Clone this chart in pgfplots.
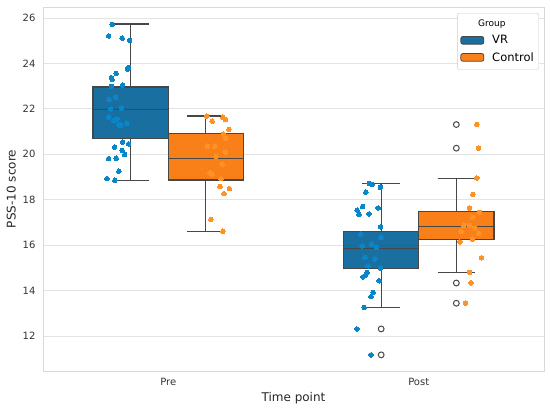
\documentclass[border=0pt]{standalone}
\usepackage{fontspec}
\setmainfont{DejaVu Sans}
\usepackage{pgfplots}
\pgfplotsset{compat=1.18}
\definecolor{vrbox}{HTML}{005F95}
\definecolor{ctbox}{HTML}{F87200}
\definecolor{vrleg}{HTML}{1A6FA0}
\definecolor{ctleg}{HTML}{F9801A}
\definecolor{vrpt}{HTML}{0A86C8}
\definecolor{ctpt}{HTML}{FF9224}
\definecolor{boxedge}{HTML}{474747}
\definecolor{gridc}{HTML}{E3E3E3}
\definecolor{framec}{HTML}{D9D9D9}
\begin{document}
\begin{tikzpicture}
\path[use as bounding box] (-43pt,-37pt) rectangle (507pt,371pt);
\begin{axis}[
  at={(0pt,0pt)}, anchor=south west,
  scale only axis, width=501pt, height=364pt,
  xmin=-0.5, xmax=1.5, ymin=10.47, ymax=26.48,
  xtick={0,1}, xticklabels={Pre,Post},
  ytick={12,14,...,26},
  ymajorgrids, grid style={gridc, line width=0.8pt},
  axis line style={framec, line width=0.8pt},
  major tick length=0pt,
  tick label style={font=\fontsize{10}{11}\selectfont, text=black!80},
  yticklabel style={xshift=-4pt},
  xticklabel style={yshift=-4pt},
  /pgf/number format/assume math mode=true,
  xlabel={Time point}, ylabel={PSS-10 score},
  label style={font=\fontsize{12}{14}\selectfont, text=black!85},
  legend style={at={(1,1)}, anchor=north east, xshift=-5pt, yshift=-6pt,
    draw=black!20, rounded corners=2pt, fill=white, inner ysep=5pt,
    font=\fontsize{11.5}{13}\selectfont, row sep=3pt, column sep=6pt},
  legend cell align=left,
  unbounded coords=jump,
  every axis plot/.append style={line join=miter},
]
\addlegendimage{empty legend}
\addlegendentry{\hspace*{-14pt}\fontsize{9}{10}\selectfont Group}
\addlegendimage{legend image code/.code={\draw[fill=vrleg, draw=boxedge, line width=0.8pt] (0pt,-3.8pt) rectangle (23pt,3.8pt);}}
\addlegendentry{VR}
\addlegendimage{legend image code/.code={\draw[fill=ctleg, draw=boxedge, line width=0.8pt] (0pt,-3.8pt) rectangle (23pt,3.8pt);}}
\addlegendentry{Control}

% whiskers and caps
\addplot[forget plot, boxedge, line width=1.3pt] coordinates {
(-0.15,22.96) (-0.15,25.73) (nan,nan) (-0.225,25.73) (-0.075,25.73) (nan,nan)
(-0.15,20.71) (-0.15,18.86) (nan,nan) (-0.225,18.86) (-0.075,18.86) (nan,nan)
(0.15,20.93) (0.15,21.68) (nan,nan) (0.075,21.68) (0.225,21.68) (nan,nan)
(0.15,18.87) (0.15,16.62) (nan,nan) (0.075,16.62) (0.225,16.62) (nan,nan)
(0.85,16.60) (0.85,18.71) (nan,nan) (0.775,18.71) (0.925,18.71) (nan,nan)
(0.85,14.98) (0.85,13.27) (nan,nan) (0.775,13.27) (0.925,13.27) (nan,nan)
(1.15,17.50) (1.15,18.94) (nan,nan) (1.075,18.94) (1.225,18.94) (nan,nan)
(1.15,16.25) (1.15,14.79) (nan,nan) (1.075,14.79) (1.225,14.79)
};

% strip points
\addplot[forget plot, only marks, mark=*, mark size=2.3pt, mark options={fill=vrpt, draw=vrpt, line width=0pt}] coordinates {
(-0.224,25.71) (-0.238,25.21) (-0.184,25.11) (-0.154,25.01) (-0.158,23.82) (-0.163,23.75)
(-0.208,23.55) (-0.227,23.37) (-0.224,23.29) (-0.182,23.05) (-0.227,22.99) (-0.210,22.51)
(-0.236,22.41) (-0.187,22.04) (-0.230,22.00) (-0.238,21.63) (-0.205,21.56) (-0.217,21.49)
(-0.165,21.37) (-0.197,21.31) (-0.190,21.27) (-0.182,20.54) (-0.158,20.46) (-0.214,20.32)
(-0.184,20.17) (-0.174,19.99) (-0.208,19.83) (-0.238,19.81) (-0.197,19.26) (-0.245,18.93)
(-0.213,18.86)
};
\addplot[forget plot, only marks, mark=*, mark size=2.3pt, mark options={fill=ctpt, draw=ctpt, line width=0pt}] coordinates {
(0.154,21.68) (0.218,21.63) (0.228,21.53) (0.175,21.46) (0.242,21.10) (0.220,20.89)
(0.230,20.70) (0.157,20.36) (0.186,20.36) (0.228,20.10) (0.190,19.90) (0.215,19.57)
(0.167,19.19) (0.175,19.13) (0.210,18.93) (0.207,18.58) (0.244,18.49) (0.223,18.27)
(0.170,17.13) (0.218,16.62)
};
\addplot[forget plot, only marks, mark=*, mark size=2.3pt, mark options={fill=vrpt, draw=vrpt, line width=0pt}] coordinates {
(0.802,18.72) (0.814,18.67) (0.847,18.55) (0.789,18.34) (0.776,17.70) (0.754,17.55)
(0.838,17.64) (0.761,17.35) (0.802,17.38) (0.847,16.81) (0.769,16.49) (0.849,16.34)
(0.812,16.05) (0.774,15.97) (0.831,15.90) (0.785,15.46) (0.825,15.39) (0.798,15.10)
(0.847,15.00) (0.794,14.80) (0.785,14.66) (0.778,14.61) (0.842,14.44) (0.818,13.93)
(0.809,13.74) (0.782,13.27) (0.753,12.32) (0.810,11.18)
};
\addplot[forget plot, only marks, mark=*, mark size=2.3pt, mark options={fill=ctpt, draw=ctpt, line width=0pt}] coordinates {
(1.232,21.31) (1.239,20.27) (1.232,18.96) (1.216,18.24) (1.203,17.63) (1.243,17.45)
(1.216,17.22) (1.180,16.88) (1.203,16.88) (1.223,16.74) (1.169,16.62) (1.240,16.52)
(1.214,16.27) (1.164,16.15) (1.251,15.45) (1.203,14.81) (1.208,14.35) (1.187,13.45)
};

% boxes (lower quartile, upper quartile), slightly translucent over the points
\addplot[forget plot, fill=vrbox, fill opacity=0.9, draw=boxedge, line width=1.3pt] coordinates {(-0.3,20.71) (0,20.71) (0,22.96) (-0.3,22.96)} -- cycle;
\addplot[forget plot, fill=ctbox, fill opacity=0.9, draw=boxedge, line width=1.3pt] coordinates {(0,18.87) (0.3,18.87) (0.3,20.93) (0,20.93)} -- cycle;
\addplot[forget plot, fill=vrbox, fill opacity=0.9, draw=boxedge, line width=1.3pt] coordinates {(0.7,14.98) (1,14.98) (1,16.60) (0.7,16.60)} -- cycle;
\addplot[forget plot, fill=ctbox, fill opacity=0.9, draw=boxedge, line width=1.3pt] coordinates {(1,16.25) (1.3,16.25) (1.3,17.50) (1,17.50)} -- cycle;
% medians
\addplot[forget plot, boxedge, line width=1.3pt] coordinates {
(-0.3,21.96) (0,21.96) (nan,nan) (0,19.82) (0.3,19.82) (nan,nan)
(0.7,15.87) (1,15.87) (nan,nan) (1,16.84) (1.3,16.84)
};
% outliers
\addplot[forget plot, only marks, mark=o, mark size=2.9pt, mark options={draw=boxedge, fill=white, line width=1pt}] coordinates {
(0.85,12.32) (0.85,11.18) (1.15,21.31) (1.15,20.27) (1.15,14.34) (1.15,13.45)
};
\end{axis}
\end{tikzpicture}
\end{document}
